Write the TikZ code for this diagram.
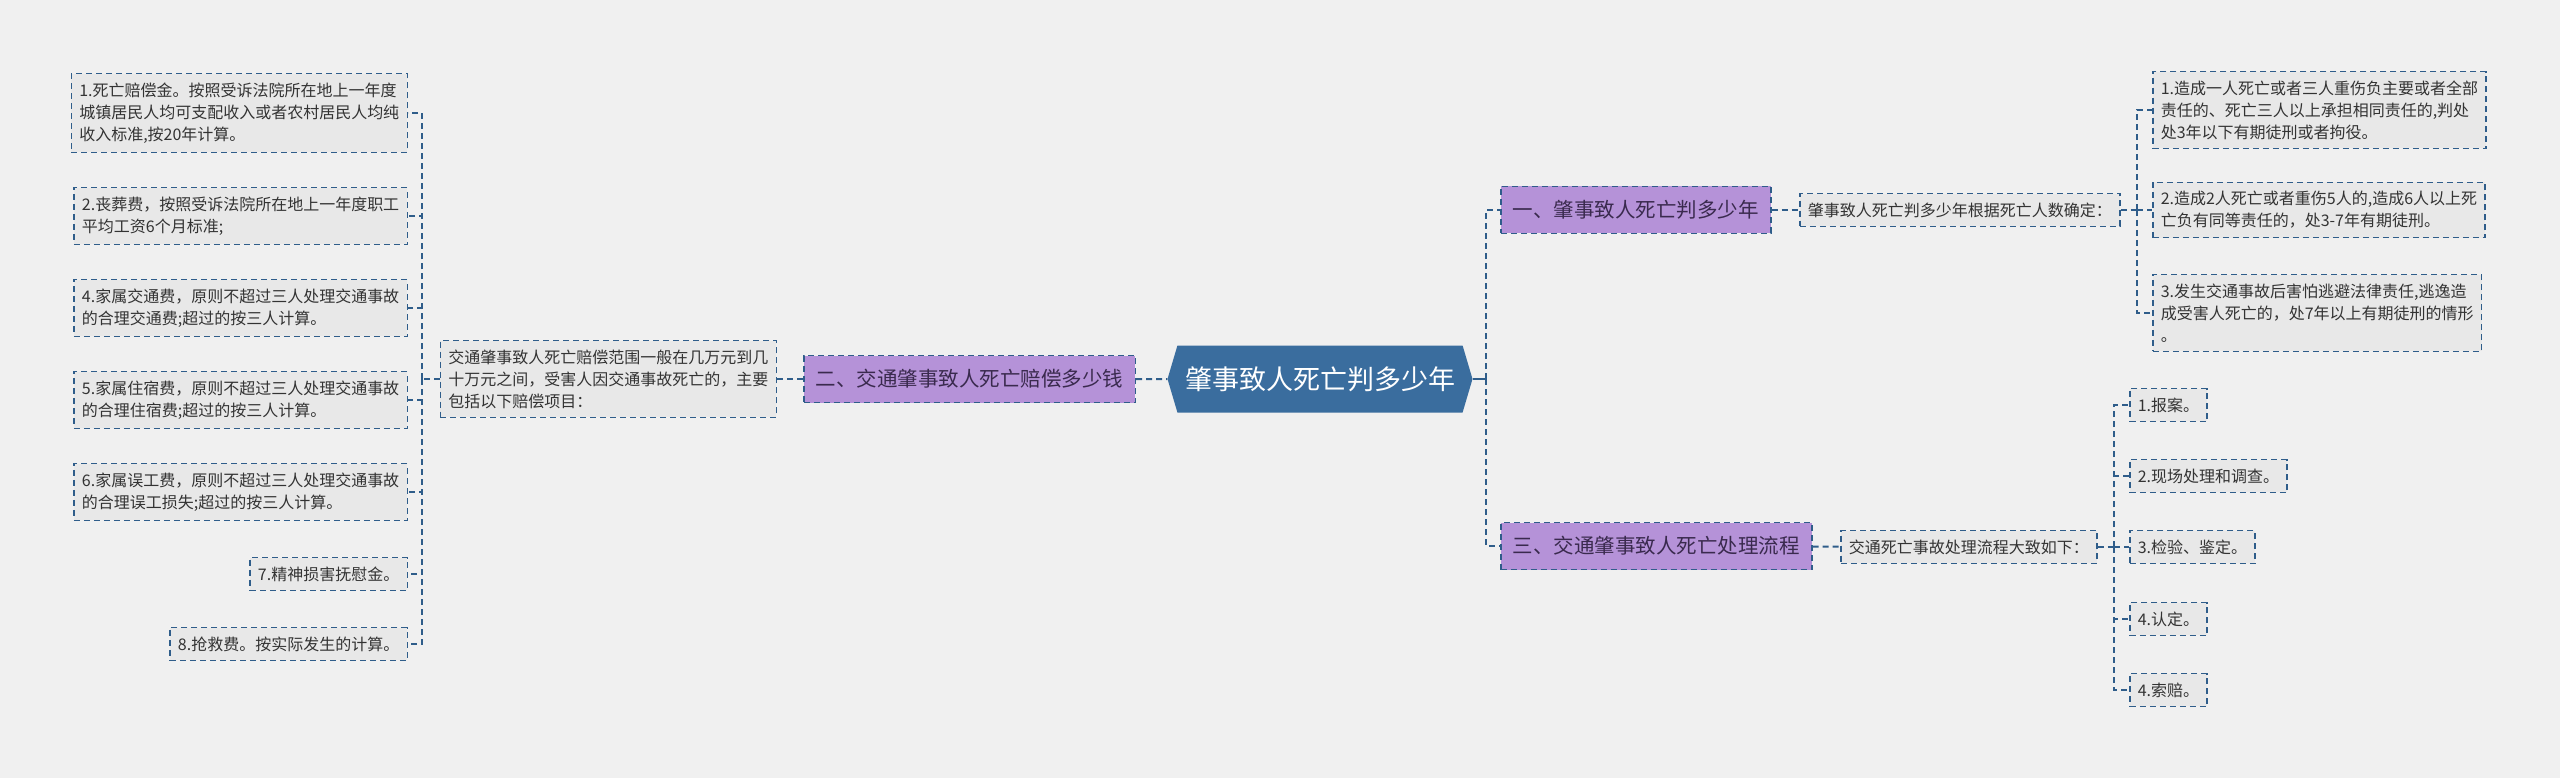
\documentclass[tikz,border=0pt]{standalone}
\usepackage{fontspec}
\setmainfont{Noto Sans CJK SC}
\usetikzlibrary{shapes.symbols}
\definecolor{bgcol}{RGB}{240,240,240}
\definecolor{boxfill}{RGB}{232,232,232}
\definecolor{edgecol}{RGB}{47,93,138}
\definecolor{topicfill}{RGB}{181,146,216}
\definecolor{topictext}{RGB}{58,42,78}
\definecolor{rootfill}{RGB}{58,109,158}
\definecolor{textcol}{RGB}{51,51,51}

\begin{document}
\begin{tikzpicture}[
    x=1pt, y=-1pt,
    leaf/.style={
        rectangle, draw=edgecol, fill=boxfill, line width=1.5,
        dash pattern=on 6 off 4, text=textcol,
        font=\fontsize{16}{22}\selectfont, align=left,
        inner xsep=8, inner ysep=9
    },
    topic/.style={
        rectangle, draw=edgecol, fill=topicfill, line width=1.5,
        dash pattern=on 6 off 4, text=topictext,
        font=\fontsize{20.5}{24}\selectfont,
        inner xsep=12, minimum height=47
    },
    root/.style={
        signal, signal to=west and east, signal pointer angle=147,
        fill=rootfill, text=white, font=\fontsize{27}{30}\selectfont,
        minimum width=305, minimum height=67, inner xsep=4
    },
    link/.style={draw=edgecol, line width=2, dash pattern=on 6 off 4},
    hub/.style={draw=edgecol, line width=2.5}
]

    \fill[bgcol] (0,0) rectangle (2560,778);

    % centre and main topics
    \node[root] (root) at (1320,379) {肇事致人死亡判多少年};
    \node[topic, anchor=east] (two) at (1136,379) {二、交通肇事致人死亡赔偿多少钱};
    \node[topic, anchor=west] (one) at (1500,210) {一、肇事致人死亡判多少年};
    \node[topic, anchor=west] (three) at (1500,546) {三、交通肇事致人死亡处理流程};

    % left branch
    \node[leaf, anchor=east] (sum) at (777,379) {交通肇事致人死亡赔偿范围一般在几万元到几\\十万元之间，受害人因交通事故死亡的，主要\\包括以下赔偿项目：};
    \node[leaf, anchor=east] (l1) at (408,113) {1.死亡赔偿金。按照受诉法院所在地上一年度\\城镇居民人均可支配收入或者农村居民人均纯\\收入标准,按20年计算。};
    \node[leaf, anchor=east] (l2) at (408,216) {2.丧葬费，按照受诉法院所在地上一年度职工\\平均工资6个月标准;};
    \node[leaf, anchor=east] (l4) at (408,308) {4.家属交通费，原则不超过三人处理交通事故\\的合理交通费;超过的按三人计算。};
    \node[leaf, anchor=east] (l5) at (408,400) {5.家属住宿费，原则不超过三人处理交通事故\\的合理住宿费;超过的按三人计算。};
    \node[leaf, anchor=east] (l6) at (408,492) {6.家属误工费，原则不超过三人处理交通事故\\的合理误工损失;超过的按三人计算。};
    \node[leaf, anchor=east] (l7) at (408,574) {7.精神损害抚慰金。};
    \node[leaf, anchor=east] (l8) at (408,644) {8.抢救费。按实际发生的计算。};

    % upper right branch
    \node[leaf, anchor=west] (sub1) at (1799,210) {肇事致人死亡判多少年根据死亡人数确定：};
    \node[leaf, anchor=west] (r1) at (2152,110) {1.造成一人死亡或者三人重伤负主要或者全部\\责任的、死亡三人以上承担相同责任的,判处\\处3年以下有期徒刑或者拘役。};
    \node[leaf, anchor=west] (r2) at (2152,210) {2.造成2人死亡或者重伤5人的,造成6人以上死\\亡负有同等责任的，处3-7年有期徒刑。};
    \node[leaf, anchor=west] (r3) at (2152,313) {3.发生交通事故后害怕逃避法律责任,逃逸造\\成受害人死亡的，处7年以上有期徒刑的情形\\。};

    % lower right branch
    \node[leaf, anchor=west] (sub3) at (1840,547) {交通死亡事故处理流程大致如下：};
    \node[leaf, anchor=west] (p1) at (2129,405) {1.报案。};
    \node[leaf, anchor=west] (p2) at (2129,476) {2.现场处理和调查。};
    \node[leaf, anchor=west] (p3) at (2129,547) {3.检验、鉴定。};
    \node[leaf, anchor=west] (p4) at (2129,619) {4.认定。};
    \node[leaf, anchor=west] (p5) at (2129,690) {4.索赔。};

    \coordinate (ltrunk) at (422,379);
    \coordinate (rtrunk) at (1486,379);
    \coordinate (atrunk) at (2137,210);
    \coordinate (btrunk) at (2114,547);

    \draw[link] (two) -- (root);
    \draw[link] (sum) -- (two);
    \draw[link] (sum.west) -- (ltrunk);
    \draw[link] (ltrunk) |- (l1.east);
    \draw[link] (ltrunk) |- (l2.east);
    \draw[link] (ltrunk) |- (l4.east);
    \draw[link] (ltrunk) |- (l5.east);
    \draw[link] (ltrunk) |- (l6.east);
    \draw[link] (ltrunk) |- (l7.east);
    \draw[link] (ltrunk) |- (l8.east);

    \draw[hub] (root.east) -- (rtrunk);
    \draw[link] (rtrunk) |- (one.west);
    \draw[link] (rtrunk) |- (three.west);

    \draw[link] (one) -- (sub1);
    \draw[link] (sub1.east) -- (atrunk);
    \draw[link] (atrunk) |- (r1.west);
    \draw[link] (atrunk) |- (r2.west);
    \draw[link] (atrunk) |- (r3.west);

    \draw[link] (three) -- (sub3);
    \draw[link] (sub3.east) -- (btrunk);
    \draw[link] (btrunk) |- (p1.west);
    \draw[link] (btrunk) |- (p2.west);
    \draw[link] (btrunk) |- (p3.west);
    \draw[link] (btrunk) |- (p4.west);
    \draw[link] (btrunk) |- (p5.west);
\end{tikzpicture}
\end{document}
